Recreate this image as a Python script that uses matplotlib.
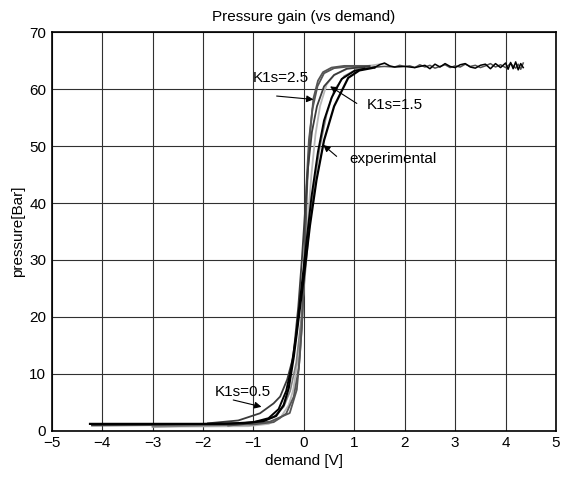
import matplotlib
matplotlib.use("Agg")
import matplotlib.pyplot as plt

plt.rcParams['font.family'] = ['Liberation Sans', 'DejaVu Sans']

# ---- data ----
# experimental, rising branch
exp_up_x = [-4.24, -2.0, -1.2, -0.8, -0.55, -0.4, -0.3, -0.2, -0.1, 0.0, 0.12, 0.25, 0.4, 0.6, 0.88, 1.1, 1.4]
exp_up_y = [1.2, 1.2, 1.3, 1.7, 2.6, 4.5, 7.5, 13, 20, 27, 36, 44, 51, 57, 62, 63.3, 63.8]
# experimental, noisy saturated plateau (out and back)
plat_out_x = [1.4, 1.5, 1.6, 1.7, 1.8, 2.0, 2.2, 2.4, 2.5, 2.6, 2.7, 2.8, 2.9, 3.0, 3.1, 3.2, 3.3,
              3.4, 3.5, 3.6, 3.7, 3.8, 3.9, 4.0, 4.05, 4.1, 4.15, 4.2, 4.25, 4.3, 4.35]
plat_out_y = [63.8, 64.3, 64.6, 64.1, 63.9, 64.0, 63.8, 64.2, 63.6, 64.4, 63.9, 64.5, 64.0, 63.8, 64.3, 64.5,
              63.9, 63.7, 64.2, 64.4, 63.6, 64.5, 63.8, 64.6, 63.5, 64.7, 63.6, 64.8, 63.4, 64.5, 63.8]
plat_back_x = [4.35, 4.3, 4.25, 4.2, 4.1, 4.0, 3.9, 3.8, 3.7, 3.6, 3.5, 3.4, 3.3, 3.2, 3.1, 3.0,
               2.9, 2.8, 2.7, 2.6, 2.5, 2.4, 2.3, 2.2, 2.1, 2.0, 1.9, 1.8, 1.6, 1.4, 1.2]
plat_back_y = [64.6, 63.5, 64.4, 63.7, 64.5, 63.8, 64.3, 63.9, 64.5, 64.1, 63.8, 64.2, 64.0, 64.4, 63.9, 64.1,
               63.8, 64.3, 64.0, 63.7, 64.2, 63.9, 64.3, 63.8, 64.1, 64.0, 64.2, 63.9, 64.0, 63.9, 63.6]
# experimental, falling branch
exp_dn_x = [1.2, 1.0, 0.75, 0.55, 0.4, 0.28, 0.15, 0.05, -0.05, -0.15, -0.25, -0.35, -0.5, -0.7, -1.0, -1.6, -4.2]
exp_dn_y = [63.6, 63.2, 61.8, 58.5, 54.5, 49, 41, 33, 25, 17, 11, 7, 3.8, 2.2, 1.5, 1.2, 1.1]

# model K1s=2.5 (two branches)
k25_a_x = [-4.2, -1.0, -0.6, -0.35, -0.2, -0.1, -0.04, 0.0, 0.03, 0.07, 0.12, 0.19, 0.28, 0.38, 0.55, 0.8, 1.3]
k25_a_y = [0.9, 1.1, 1.5, 3.0, 6.0, 11, 18, 26, 34, 44, 52, 58.4, 61.5, 63.0, 63.8, 64.1, 64.1]
k25_b_x = [-1.5, -0.67, -0.28, -0.14, -0.08, -0.03, 0.0, 0.02, 0.05, 0.1, 0.17, 0.27, 0.4, 0.6, 0.9, 1.3]
k25_b_y = [0.9, 1.6, 3.1, 7.2, 13, 20, 27, 34, 43, 51, 56.5, 60.5, 62.8, 63.7, 64.0, 64.1]

# model K1s=1.5
k15_x = [-3.0, -1.4, -0.9, -0.6, -0.4, -0.27, -0.15, -0.06, 0.02, 0.1, 0.2, 0.32, 0.45, 0.6, 0.8, 1.05, 1.5]
k15_y = [0.7, 1.0, 1.4, 2.4, 4.2, 7, 12, 19, 27, 35, 43, 50, 55.5, 59.8, 62.3, 63.5, 64.0]

# light grey model curve
kl_x = [-3.0, -1.1, -0.7, -0.47, -0.3, -0.21, -0.11, -0.04, 0.02, 0.08, 0.15, 0.23, 0.32, 0.45, 0.6, 0.87, 1.2, 1.6, 1.7]
kl_y = [0.7, 0.8, 1.2, 2.2, 4.5, 7.2, 13, 20, 28, 37, 45, 52, 57, 60.8, 62.5, 63.6, 64.0, 64.5, 64.1]

# model K1s=0.5
k05_x = [-1.9, -1.3, -0.87, -0.6, -0.47, -0.33, -0.21, -0.11, -0.04, 0.02, 0.08, 0.16, 0.26, 0.4, 0.6, 0.85, 1.3]
k05_y = [1.3, 1.8, 3.06, 4.8, 6.0, 9.0, 13, 21.8, 30, 38, 46, 52.5, 57, 60.5, 62.5, 63.6, 64.0]

x_ticks = [-5, -4, -3, -2, -1, 0, 1, 2, 3, 4, 5]
y_ticks = [0, 10, 20, 30, 40, 50, 60, 70]

FS = 11

fig = plt.figure(figsize=(5.63, 4.82), dpi=100)
ax = fig.add_axes([0.0918, 0.1064, 0.8958, 0.8266])

ax.plot(kl_x, kl_y, color='#b8b8b8', lw=1.3)
ax.plot(k15_x, k15_y, color='#808080', lw=1.2)
ax.plot(k25_a_x, k25_a_y, color='#555555', lw=1.3)
ax.plot(k25_b_x, k25_b_y, color='#555555', lw=1.3)
ax.plot(k05_x, k05_y, color='#3a3a3a', lw=1.3)
ax.plot(plat_back_x, plat_back_y, color='#505050', lw=1.1)
ax.plot(plat_out_x, plat_out_y, color='black', lw=1.1)
ax.plot(exp_up_x, exp_up_y, color='black', lw=1.6)
ax.plot(exp_dn_x, exp_dn_y, color='black', lw=1.4)

ax.set_xlim(-5, 5)
ax.set_ylim(0, 70)
ax.set_xticks(x_ticks)
ax.set_yticks(y_ticks)
ax.tick_params(direction='in', length=0, labelsize=FS, pad=4)
ax.grid(True, color='#303030', lw=0.8)
for s in ax.spines.values():
    s.set_linewidth(1.2)

ax.set_title('Pressure gain (vs demand)', fontsize=FS, pad=8)
ax.set_xlabel('demand [V]', fontsize=FS, labelpad=3)
ax.set_ylabel('pressure[Bar]', fontsize=FS, labelpad=3)

arr = dict(arrowstyle='-|>', color='black', lw=0.8, mutation_scale=10, shrinkA=0, shrinkB=0)
ax.annotate('', xy=(0.19, 58.2), xytext=(-0.54, 58.8), arrowprops=arr)
ax.text(-1.01, 62.0, 'K1s=2.5', fontsize=FS, va='center', ha='left')
ax.annotate('', xy=(0.52, 60.5), xytext=(1.05, 57.5), arrowprops=arr)
ax.text(1.25, 57.2, 'K1s=1.5', fontsize=FS, va='center', ha='left')
ax.annotate('', xy=(0.385, 50.2), xytext=(0.65, 48.2), arrowprops=arr)
ax.text(0.91, 47.7, 'experimental', fontsize=FS, va='center', ha='left')
ax.annotate('', xy=(-0.84, 4.2), xytext=(-1.40, 5.4), arrowprops=arr)
ax.text(-1.76, 6.85, 'K1s=0.5', fontsize=FS, va='center', ha='left')

fig.savefig('out.png', dpi=100)
